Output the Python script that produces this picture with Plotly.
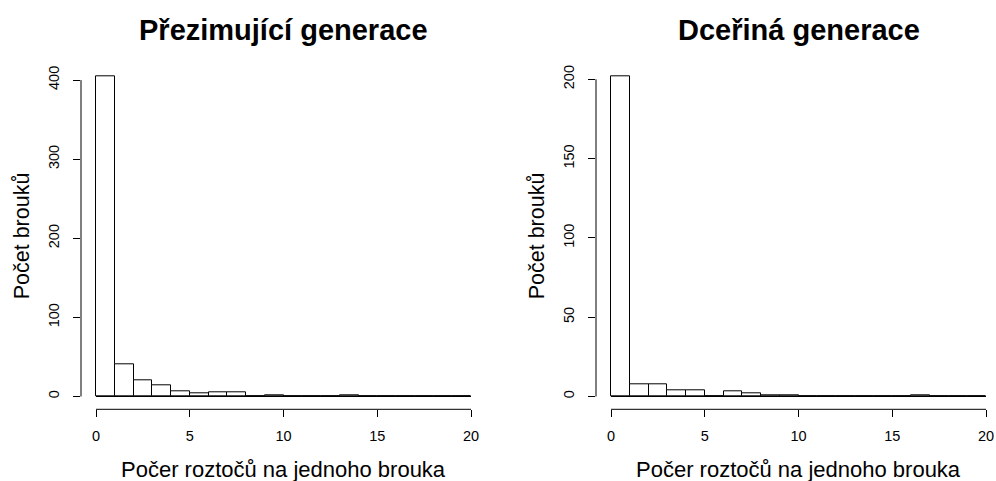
import plotly.graph_objects as go

# Histogram data: counts per unit-width bin, mites per beetle (0..20)
bin_edges = list(range(0, 21))
counts_overwinter = [405, 41, 21, 14, 7, 4, 5, 5, 0, 1, 0, 0, 0, 2, 0, 0, 0, 0, 0, 0]
counts_daughter = [202, 8, 8, 4, 4, 0, 3, 2, 1, 1, 0, 0, 0, 0, 0, 0, 1, 0, 0, 0]
titles = ["Přezimující generace", "Dceřiná generace"]
x_title = "Počer roztočů na jednoho brouka"
y_title = "Počet brouků"
x_ticks = [0, 5, 10, 15, 20]
y_ticks_left = [0, 100, 200, 300, 400]
y_ticks_right = [0, 50, 100, 150, 200]

W, H = 996, 481
FONT = "Liberation Sans, Arial, sans-serif"


def px(x):
    return x / W


def py(y):
    return 1 - y / H


fig = go.Figure()

panels = [
    dict(counts=counts_overwinter, yticks=y_ticks_left, xdom=(81, 486), xs="x", ys="y", title=titles[0]),
    dict(counts=counts_daughter, yticks=y_ticks_right, xdom=(596, 996), xs="x2", ys="y2", title=titles[1]),
]

ydom = (py(409.3), py(63.3))
lo, hi = bin_edges[0], bin_edges[-1]
pad = 0.04 * (hi - lo)
px_per_unit = (486 - 81) / ((hi - lo) + 2 * pad)

for i, p in enumerate(panels):
    centers = [(a + b) / 2 for a, b in zip(bin_edges[:-1], bin_edges[1:])]
    widths = [b - a for a, b in zip(bin_edges[:-1], bin_edges[1:])]
    fig.add_trace(go.Bar(
        x=centers, y=p["counts"], width=widths,
        marker=dict(color="white", line=dict(color="black", width=1)),
        xaxis=p["xs"], yaxis=p["ys"], showlegend=False, hoverinfo="x+y",
    ))
    ymax = max(p["counts"])
    ypad = 0.04 * ymax
    ax_suffix = "" if i == 0 else "2"
    # the right panel's plot region runs past the page edge, so clip its range
    xr = [lo - pad, lo - pad + (p["xdom"][1] - p["xdom"][0]) / px_per_unit]
    fig.update_layout(**{
        "xaxis" + ax_suffix: dict(
            domain=[px(p["xdom"][0]), px(p["xdom"][1])], range=xr,
            tickvals=x_ticks, ticks="outside", ticklen=7, tickcolor="black",
            showline=False, showgrid=False, zeroline=False, anchor=p["ys"],
            tickfont=dict(family=FONT, size=14.5, color="black"), ticklabelstandoff=6,
        ),
        "yaxis" + ax_suffix: dict(
            domain=list(ydom), range=[-ypad, ymax + ypad],
            tickvals=p["yticks"], ticks="outside", ticklen=7, tickcolor="black",
            showline=False, showgrid=False, zeroline=False, anchor=p["xs"],
            tickangle=-90, tickfont=dict(family=FONT, size=14.5, color="black"),
            ticklabelstandoff=8,
        ),
    })
    # axis lines spanning first to last tick
    fig.add_shape(type="line", xref=p["xs"], yref=p["ys"] + " domain",
                  x0=x_ticks[0], x1=x_ticks[-1], y0=0, y1=0,
                  line=dict(color="black", width=1))
    fig.add_shape(type="line", xref=p["xs"] + " domain", yref=p["ys"],
                  x0=0, x1=0, y0=p["yticks"][0], y1=p["yticks"][-1],
                  line=dict(color="black", width=1))
    # zero-count bins show as a baseline along the histogram
    fig.add_shape(type="line", xref=p["xs"], yref=p["ys"],
                  x0=bin_edges[0], x1=bin_edges[-1], y0=0, y1=0,
                  line=dict(color="black", width=1))

    cx = (81 + 486) / 2 if i == 0 else (596 + 1001) / 2
    fig.add_annotation(text=f"<b>{p['title']}</b>", x=px(cx), y=py(30), xref="paper", yref="paper",
                       showarrow=False, font=dict(family=FONT, size=29, color="black"),
                       xanchor="center", yanchor="middle")
    fig.add_annotation(text=x_title, x=px(cx), y=py(469), xref="paper", yref="paper",
                       showarrow=False, font=dict(family=FONT, size=22, color="black"),
                       xanchor="center", yanchor="middle")
    ycx = 22 if i == 0 else 537
    fig.add_annotation(text=y_title, x=px(ycx), y=py(236.3), xref="paper", yref="paper",
                       showarrow=False, textangle=-90, font=dict(family=FONT, size=21.5, color="black"),
                       xanchor="center", yanchor="middle")

fig.update_layout(
    width=W, height=H, margin=dict(l=0, r=0, t=0, b=0),
    paper_bgcolor="white", plot_bgcolor="white", bargap=0,
)

fig.write_html("out.html")
